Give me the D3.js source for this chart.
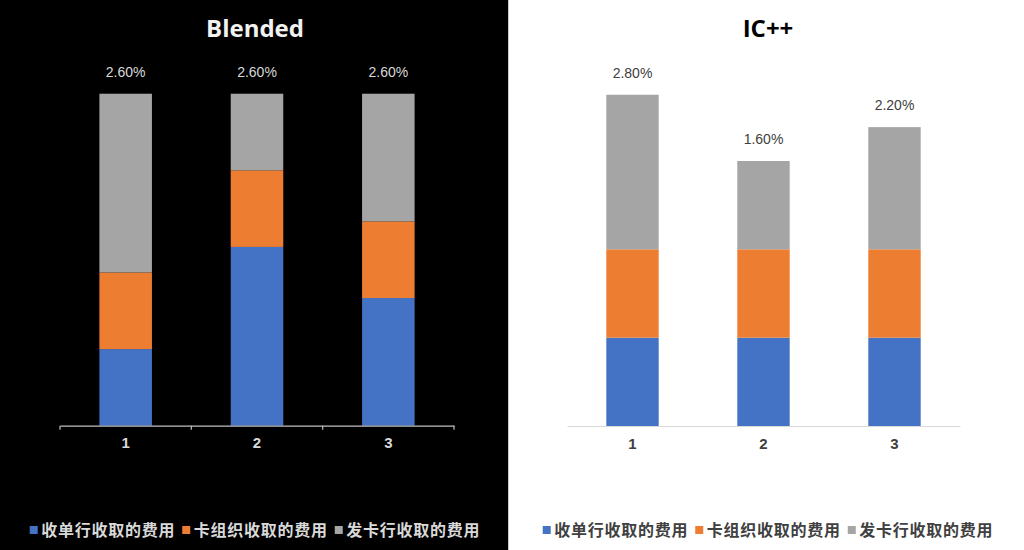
<!DOCTYPE html>
<html>
<head>
<meta charset="utf-8">
<script src="https://cdn.jsdelivr.net/npm/d3@7.9.0/dist/d3.min.js"></script>
<style>
  html, body { margin: 0; padding: 0; background: #fff; }
  svg { display: block; }
</style>
</head>
<body>
<svg id="chart" width="1024" height="550"></svg>
<script>
const categories = ["1", "2", "3"];
const seriesNames = ["收单行收取的费用", "卡组织收取的费用", "发卡行收取的费用"];

// Blended (left panel), values in %
const blendedAcquirer = [0.6, 1.4, 1.0];
const blendedScheme = [0.6, 0.6, 0.6];
const blendedIssuer = [1.4, 0.6, 1.0];
const blendedLabels = ["2.60%", "2.60%", "2.60%"];

// IC++ (right panel), segment heights as drawn
const icAcquirer = [0.6, 0.6, 0.6];
const icScheme = [0.6, 0.6, 0.6];
const icIssuer = [1.05, 0.6, 0.83];
const icLabels = ["2.80%", "1.60%", "2.20%"];

const colors = ["#4472C4", "#ED7D31", "#A5A5A5"];

const svg = d3.select("#chart");

// panels
svg.append("rect").attr("x", 0).attr("y", 0).attr("width", 508).attr("height", 550).attr("fill", "#000");
svg.append("line").attr("x1", 508.5).attr("x2", 508.5).attr("y1", 0).attr("y2", 550)
  .attr("stroke", "#c8c8c8").attr("stroke-width", 1);

function drawPanel(opts) {
  const g = svg.append("g");
  const rows = categories.map((c, i) => ({
    cat: c,
    s0: opts.acq[i], s1: opts.sch[i], s2: opts.iss[i]
  }));
  const stack = d3.stack().keys(["s0", "s1", "s2"])(rows);

  const x = d3.scaleBand().domain(categories)
    .range([opts.x0, opts.x1]).paddingInner(0.6).paddingOuter(0.3);
  const y = d3.scaleLinear().domain([0, opts.yMax]).range([opts.base, 60]);

  // title
  g.append("text")
    .attr("x", opts.cx).attr("y", 37)
    .attr("text-anchor", "middle")
    .attr("font-family", "'Open Sans', 'Liberation Sans', sans-serif")
    .attr("font-weight", 700).attr("font-size", 24)
    .attr("fill", opts.titleColor)
    .text(opts.title);

  // bars
  g.selectAll("g.series").data(stack).enter().append("g")
    .attr("fill", (d, i) => colors[i])
    .selectAll("rect").data(d => d).enter().append("rect")
    .attr("x", d => x(d.data.cat))
    .attr("width", x.bandwidth())
    .attr("y", d => y(d[1]))
    .attr("height", d => y(d[0]) - y(d[1]));

  // total labels
  const top = stack[stack.length - 1];
  g.selectAll("text.total").data(top).enter().append("text")
    .attr("class", "total")
    .attr("x", d => x(d.data.cat) + x.bandwidth() / 2)
    .attr("y", d => y(d[1]) - 17)
    .attr("text-anchor", "middle")
    .attr("font-family", "'Liberation Sans', Arial, sans-serif")
    .attr("font-size", 14)
    .attr("fill", opts.textColor)
    .text((d, i) => opts.labels[i]);

  // axis
  const axis = g.append("g").attr("transform", `translate(0,${opts.base})`)
    .call(d3.axisBottom(x).tickSize(0).tickPadding(12));
  axis.select(".domain").attr("stroke", opts.axisColor).attr("stroke-width", 1.2);
  axis.selectAll("text")
    .attr("font-family", "'Liberation Sans', Arial, sans-serif")
    .attr("font-weight", 700).attr("font-size", 15)
    .attr("fill", opts.textColor);
  if (opts.boundaryTicks) {
    const bounds = d3.range(categories.length + 1).map(i => x.range()[0] + i * x.step());
    axis.selectAll("line.bt").data(bounds).enter().append("line")
      .attr("class", "bt")
      .attr("x1", d => d).attr("x2", d => d)
      .attr("y1", 0).attr("y2", 4)
      .attr("stroke", opts.axisColor).attr("stroke-width", 1.2);
  }

  // legend
  const leg = g.append("g").attr("transform", "translate(0,530)");
  const items = leg.selectAll("g").data(seriesNames).enter().append("g");
  items.append("rect").attr("y", -4).attr("width", 8).attr("height", 8)
    .attr("fill", (d, i) => colors[i]);
  items.append("text")
    .attr("x", 11.5).attr("dy", "0.36em")
    .attr("font-family", "'Noto Sans CJK SC', sans-serif")
    .attr("font-weight", 700).attr("font-size", 16)
    .attr("letter-spacing", 0.75)
    .attr("fill", opts.textColor)
    .text(d => d);
  let widths = [];
  items.each(function () { widths.push(11.5 + this.querySelector("text").getComputedTextLength()); });
  const gap = 7;
  const total = d3.sum(widths) + gap * (widths.length - 1);
  let cur = opts.cx - total / 2;
  items.attr("transform", (d, i) => {
    const t = `translate(${cur},0)`;
    cur += widths[i] + gap;
    return t;
  });
}

drawPanel({
  title: "Blended", titleColor: "#F2F2F2", textColor: "#D9D9D9", axisColor: "#BFBFBF",
  acq: blendedAcquirer, sch: blendedScheme, iss: blendedIssuer, labels: blendedLabels,
  x0: 60, x1: 454, base: 425.7, yMax: 2.864, cx: 255, boundaryTicks: true
});

drawPanel({
  title: "IC++", titleColor: "#000", textColor: "#404040", axisColor: "#D9D9D9",
  acq: icAcquirer, sch: icScheme, iss: icIssuer, labels: icLabels,
  x0: 567, x1: 960, base: 426, yMax: 2.486, cx: 768, boundaryTicks: false
});
</script>
</body>
</html>
